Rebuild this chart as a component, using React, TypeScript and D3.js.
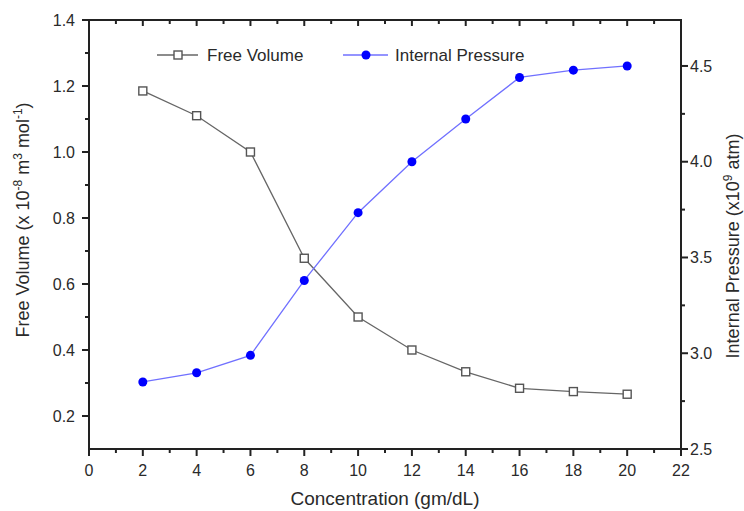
import * as d3 from 'd3'

const width = 744
const height = 511
const margin = { top: 20, right: 63, bottom: 62, left: 89 }

const concentration = [2, 4, 6, 8, 10, 12, 14, 16, 18, 20]
const freeVolume = [1.185, 1.11, 1.0, 0.678, 0.5, 0.4, 0.334, 0.284, 0.274, 0.266]
const internalPressure = [2.85, 2.898, 2.989, 3.38, 3.734, 4.0, 4.223, 4.44, 4.478, 4.5]

const xTicks = [0, 2, 4, 6, 8, 10, 12, 14, 16, 18, 20, 22]
const leftTicks = [0.2, 0.4, 0.6, 0.8, 1.0, 1.2, 1.4]
const rightTicks = [2.5, 3.0, 3.5, 4.0, 4.5]

const font = '"Liberation Sans", Arial, sans-serif'
const axisColor = '#222'
const textColor = '#2a2a2a'
const grayLine = '#666'
const blue = '#0000ff'
const lightBlue = '#7070ff'

function App() {
  const innerWidth = width - margin.left - margin.right
  const innerHeight = height - margin.top - margin.bottom
  const left = margin.left
  const right = margin.left + innerWidth
  const top = margin.top
  const bottom = margin.top + innerHeight

  const x = d3.scaleLinear().domain([0, 22]).range([left, right])
  const yL = d3.scaleLinear().domain([0.1, 1.4]).range([bottom, top])
  const yR = d3.scaleLinear().domain([2.5, 4.74]).range([bottom, top])

  const fvLine = d3
    .line<number>()
    .x((_, i) => x(concentration[i]))
    .y((d) => yL(d))
  const ipLine = d3
    .line<number>()
    .x((_, i) => x(concentration[i]))
    .y((d) => yR(d))

  const xMinor = d3.range(1, 22, 2)
  const leftMinor = d3.range(0.3, 1.4, 0.2)
  const rightMinor = d3.range(2.75, 4.74, 0.5)

  return (
    <svg width={width} height={height} style={{ position: 'absolute', left: 0, top: 0 }}>
      <rect width={width} height={height} fill="white" />

      {/* frame */}
      <rect x={left} y={top} width={innerWidth} height={innerHeight} fill="none" stroke={axisColor} strokeWidth={2} />

      {/* bottom axis, mirrored ticks on top */}
      {xTicks.map((t) => (
        <g key={`x${t}`}>
          <line x1={x(t)} x2={x(t)} y1={bottom} y2={bottom + 7} stroke={axisColor} strokeWidth={2} />
          <line x1={x(t)} x2={x(t)} y1={top} y2={top + 6} stroke={axisColor} strokeWidth={2} />
          <text x={x(t)} y={bottom + 27} textAnchor="middle" fontFamily={font} fontSize={16} fill={textColor}>
            {t}
          </text>
        </g>
      ))}
      {xMinor.map((t) => (
        <g key={`xm${t}`}>
          <line x1={x(t)} x2={x(t)} y1={bottom} y2={bottom + 4} stroke={axisColor} strokeWidth={2} />
          <line x1={x(t)} x2={x(t)} y1={top} y2={top + 4} stroke={axisColor} strokeWidth={2} />
        </g>
      ))}

      {/* left axis */}
      {leftTicks.map((t) => (
        <g key={`l${t}`}>
          <line x1={left - 7} x2={left} y1={yL(t)} y2={yL(t)} stroke={axisColor} strokeWidth={2} />
          <text x={left - 14} y={yL(t)} dy="0.36em" textAnchor="end" fontFamily={font} fontSize={16} fill={textColor}>
            {t.toFixed(1)}
          </text>
        </g>
      ))}
      {leftMinor.map((t) => (
        <line key={`lm${t}`} x1={left - 4} x2={left} y1={yL(t)} y2={yL(t)} stroke={axisColor} strokeWidth={2} />
      ))}

      {/* right axis */}
      {rightTicks.map((t) => (
        <g key={`r${t}`}>
          <line x1={right} x2={right + 7} y1={yR(t)} y2={yR(t)} stroke={axisColor} strokeWidth={2} />
          <text x={right + 9} y={yR(t)} dy="0.36em" textAnchor="start" fontFamily={font} fontSize={16} fill={textColor}>
            {t.toFixed(1)}
          </text>
        </g>
      ))}
      {rightMinor.map((t) => (
        <line key={`rm${t}`} x1={right} x2={right + 4} y1={yR(t)} y2={yR(t)} stroke={axisColor} strokeWidth={2} />
      ))}

      {/* axis titles */}
      <text x={(left + right) / 2} y={505} textAnchor="middle" fontFamily={font} fontSize={19} fill={textColor}>
        Concentration (gm/dL)
      </text>
      <text
        transform={`translate(29,220) rotate(-90)`}
        textAnchor="middle"
        fontFamily={font}
        fontSize={18}
        fill={textColor}
      >
        Free Volume (x 10
        <tspan dy={-7} fontSize={12}>-8</tspan>
        <tspan dy={7}> m</tspan>
        <tspan dy={-7} fontSize={12}>3</tspan>
        <tspan dy={7}> mol</tspan>
        <tspan dy={-7} fontSize={12}>-1</tspan>
        <tspan dy={7}>)</tspan>
      </text>
      <text
        transform={`translate(739,246) rotate(-90)`}
        textAnchor="middle"
        fontFamily={font}
        fontSize={18}
        fill={textColor}
      >
        Internal Pressure (x10
        <tspan dy={-7} fontSize={12}>9</tspan>
        <tspan dy={7}> atm)</tspan>
      </text>

      {/* free volume series */}
      <path d={fvLine(freeVolume) ?? ''} fill="none" stroke={grayLine} strokeWidth={1.3} />
      {freeVolume.map((v, i) => (
        <rect
          key={`fv${i}`}
          x={x(concentration[i]) - 4}
          y={yL(v) - 4}
          width={8}
          height={8}
          fill="white"
          stroke="#555"
          strokeWidth={1.4}
        />
      ))}

      {/* internal pressure series */}
      <path d={ipLine(internalPressure) ?? ''} fill="none" stroke={lightBlue} strokeWidth={1.3} />
      {internalPressure.map((v, i) => (
        <circle key={`ip${i}`} cx={x(concentration[i])} cy={yR(v)} r={4.5} fill={blue} />
      ))}

      {/* legend */}
      <g fontFamily={font} fontSize={17} fill={textColor}>
        <line x1={157} x2={198} y1={55} y2={55} stroke={grayLine} strokeWidth={1.3} />
        <rect x={174} y={51} width={8} height={8} fill="white" stroke="#555" strokeWidth={1.4} />
        <text x={207} y={55} dy="0.36em">Free Volume</text>
        <line x1={343} x2={388} y1={55} y2={55} stroke={lightBlue} strokeWidth={1.3} />
        <circle cx={366} cy={55} r={4.5} fill={blue} />
        <text x={395} y={55} dy="0.36em">Internal Pressure</text>
      </g>
    </svg>
  )
}

export default App
